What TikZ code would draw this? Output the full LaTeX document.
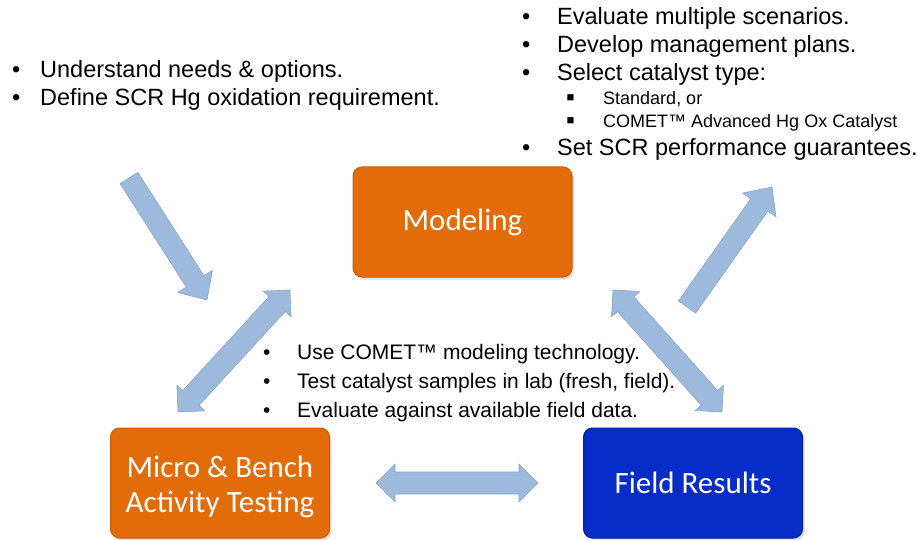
\documentclass[tikz,border=0pt]{standalone}
\usepackage{fontspec}
\setmainfont{Liberation Sans}
\newfontfamily\boxfont{Carlito}
\usetikzlibrary{calc,shadows}
\definecolor{orangebox}{RGB}{227,108,10}
\definecolor{orangeedge}{RGB}{205,92,8}
\definecolor{bluebox}{RGB}{8,44,200}
\definecolor{blueedge}{RGB}{5,32,165}
\definecolor{arrowfill}{RGB}{157,186,220}
\definecolor{arrowedge}{RGB}{136,165,203}
\tikzset{
  procbox/.style={rounded corners=9pt, minimum width=219pt, minimum height=110pt,
    text=white, font=\boxfont\fontsize{31}{35}\selectfont, align=center,
    inner sep=0pt, line width=1pt,
    drop shadow={opacity=0.25,shadow xshift=2pt,shadow yshift=-2.5pt}},
  orangeproc/.style={procbox, fill=orangebox, draw=orangeedge},
  blueproc/.style={procbox, fill=bluebox, draw=blueedge},
  bigtxt/.style={anchor=base west, inner sep=0pt, font=\fontsize{23.5}{28}\selectfont},
  midtxt/.style={anchor=base west, inner sep=0pt, font=\fontsize{21}{25}\selectfont},
  subtxt/.style={anchor=base west, inner sep=0pt, font=\fontsize{18}{21}\selectfont},
  subbul/.style={anchor=base west, inner sep=0pt, font=\fontsize{25}{25}\selectfont},
  fatarrow/.style={fill=arrowfill, draw=arrowedge, line width=0.6pt, line join=round},
}
% bullet line: name, bullet x, text x, baseline y, style, text
\newcommand\bline[6]{%
  \node[#5] (#1b) at (#2,#4) {•};
  \node[#5] (#1) at (#3,#4) {#6};}
% single block arrow from #1 (tail) to #2 (tip)
\newcommand\sarrow[2]{%
  \path ($(#2)!22pt!(#1)$) coordinate (#2-hb);
  \filldraw[fatarrow] ($(#1)!10.5pt!90:(#2)$) -- ($(#2-hb)!10.5pt!90:(#2)$)
    -- ($(#2-hb)!20.5pt!90:(#2)$) -- (#2) -- ($(#2-hb)!20.5pt!-90:(#2)$)
    -- ($(#2-hb)!10.5pt!-90:(#2)$) -- ($(#1)!10.5pt!-90:(#2)$) -- cycle;}
% double block arrow between #1 and #2
\newcommand\darrow[2]{%
  \path ($(#1)!19pt!(#2)$) coordinate (#1-hb);
  \path ($(#2)!19pt!(#1)$) coordinate (#2-hb);
  \filldraw[fatarrow] (#1) -- ($(#1-hb)!19pt!90:(#2)$) -- ($(#1-hb)!11pt!90:(#2)$)
    -- ($(#2-hb)!11pt!-90:(#1)$) -- ($(#2-hb)!19pt!-90:(#1)$) -- (#2)
    -- ($(#2-hb)!19pt!90:(#1)$) -- ($(#2-hb)!11pt!90:(#1)$)
    -- ($(#1-hb)!11pt!-90:(#2)$) -- ($(#1-hb)!19pt!-90:(#2)$) -- cycle;}
\begin{document}
\begin{tikzpicture}[x=1pt,y=-1pt]
\useasboundingbox[fill=white] (0,0) rectangle (918,540);

% boxes
\node[orangeproc] (model) at (462.5,222) {Modeling};
\node[orangeproc] (micro) at (220,483) {\rule{0pt}{30pt}Micro \& Bench\\Activity Testing};
\node[blueproc] (field) at (693,483) {Field Results};

% arrow end points
\coordinate (a1t) at (129,178);
\coordinate (a1h) at (207,300);
\coordinate (d1a) at (178,412);
\coordinate (d1b) at (290,290);
\coordinate (d2a) at (613,290);
\coordinate (d2b) at (722,412);
\coordinate (a2t) at (687,307);
\coordinate (a2h) at (772,187);
\coordinate (d3a) at (376,483);
\coordinate (d3b) at (538,483);

\sarrow{a1t}{a1h}
\darrow{d1a}{d1b}
\darrow{d2a}{d2b}
\sarrow{a2t}{a2h}
\darrow{d3a}{d3b}

% top-left list
\bline{tl1}{12}{40}{78}{bigtxt}{Understand needs \& options.}
\bline{tl2}{12}{40}{106}{bigtxt}{Define SCR Hg oxidation requirement.}

% top-right list
\bline{tr1}{522}{557}{25}{bigtxt}{Evaluate multiple scenarios.}
\bline{tr2}{522}{557}{53}{bigtxt}{Develop management plans.}
\bline{tr3}{522}{557}{81}{bigtxt}{Select catalyst type:}
\node[subbul] (ts1b) at (566,106) {▪};
\node[subtxt] (ts1) at (603,105) {Standard, or};
\node[subbul] (ts2b) at (566,129) {▪};
\node[subtxt] (ts2) at (603,128) {COMET™ Advanced Hg Ox Catalyst};
\bline{tr4}{522}{557}{156}{bigtxt}{Set SCR performance guarantees.}

% middle list
\bline{m1}{263}{297}{359}{midtxt}{Use COMET™ modeling technology.}
\bline{m2}{263}{297}{388}{midtxt}{Test catalyst samples in lab (fresh, field).}
\bline{m3}{263}{297}{417}{midtxt}{Evaluate against available field data.}
\end{tikzpicture}
\end{document}
